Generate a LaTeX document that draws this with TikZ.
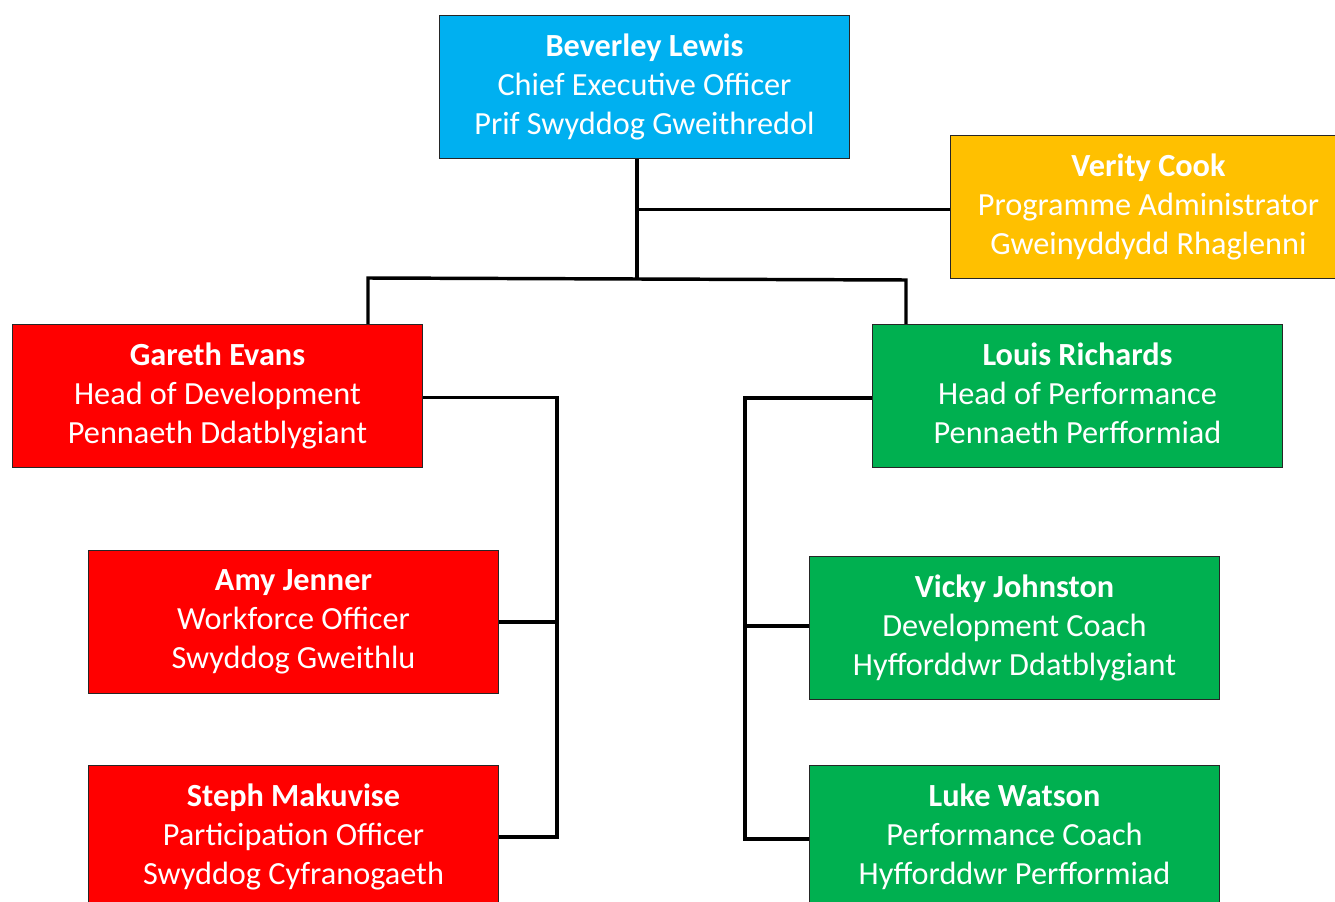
\documentclass[tikz,border=0pt]{standalone}
\usepackage{fontspec}
\setmainfont{Carlito}
\definecolor{cceo}{HTML}{00B0F0}
\definecolor{cadm}{HTML}{FFC000}
\definecolor{cdev}{HTML}{FF0000}
\definecolor{cperf}{HTML}{00B050}
\newcommand{\orgtxt}[3]{\textbf{#1}\\#2\\#3\vphantom{gy}}
\tikzset{
  orgbox/.style={draw=black!85, line width=0.75pt, minimum width=307.5pt, minimum height=107.25pt,
    anchor=north west, text=white, align=center, inner sep=0pt,
    font=\fontsize{24.2}{29.25}\selectfont},
  conn/.style={draw=black, line width=2.6pt, line join=miter}
}
\begin{document}
\begin{tikzpicture}[x=0.75pt,y=-0.75pt]
\useasboundingbox (0,0) rectangle (1335,902);
\clip (0,0) rectangle (1335,902);
\fill[white] (0,0) rectangle (1335,902);
\node[orgbox, fill=cceo] (bev) at (439,15) {\orgtxt{Beverley Lewis}{Chief Executive Officer}{Prif Swyddog Gweithredol}};
\node[orgbox, fill=cadm, minimum width=297pt] (ver) at (950,135) {\orgtxt{Verity Cook}{Programme Administrator}{Gweinyddydd Rhaglenni}};
\node[orgbox, fill=cdev] (gar) at (12,324) {\orgtxt{Gareth Evans}{Head of Development}{Pennaeth Ddatblygiant}};
\node[orgbox, fill=cperf] (lou) at (872,324) {\orgtxt{Louis Richards}{Head of Performance}{Pennaeth Perfformiad}};
\node[orgbox, fill=cdev] (amy) at (88,550) {\orgtxt{Amy Jenner}{Workforce Officer}{Swyddog Gweithlu}};
\node[orgbox, fill=cperf] (vic) at (809,556) {\orgtxt{Vicky Johnston}{Development Coach}{Hyfforddwr Ddatblygiant}};
\node[orgbox, fill=cdev] (ste) at (88,765) {\orgtxt{Steph Makuvise}{Participation Officer}{Swyddog Cyfranogaeth}};
\node[orgbox, fill=cperf] (luk) at (809,765) {\orgtxt{Luke Watson}{Performance Coach}{Hyfforddwr Perfformiad}};
\coordinate (j1) at (637,278);
\coordinate (jl) at (368,278);
\coordinate (jr) at (906,280);
\coordinate (bl) at (557,500);
\coordinate (br) at (745,500);
\draw[conn] (bev.south -| j1) -- (j1);
\draw[conn] ([yshift=-2.5*0.75pt]j1 |- ver.west) -- ([yshift=-2.5*0.75pt]ver.west);
\draw[conn] (gar.north -| jl) -- (jl) -- (jr) -- (jr |- lou.north);
\draw[conn] ([yshift=-1.5*0.75pt]gar.east) -- ([yshift=-1.5*0.75pt]gar.east -| bl) -- (bl |- ste.east) -- (ste.east);
\draw[conn] (amy.east) -- (amy.east -| bl);
\draw[conn] ([yshift=-2*0.75pt]lou.west) -- ([yshift=-2*0.75pt]lou.west -| br) -- ([yshift=-2*0.75pt]br |- luk.west) -- ([yshift=-2*0.75pt]luk.west);
\draw[conn] ([yshift=2*0.75pt]vic.west) -- ([yshift=2*0.75pt]vic.west -| br);
\end{tikzpicture}
\end{document}
